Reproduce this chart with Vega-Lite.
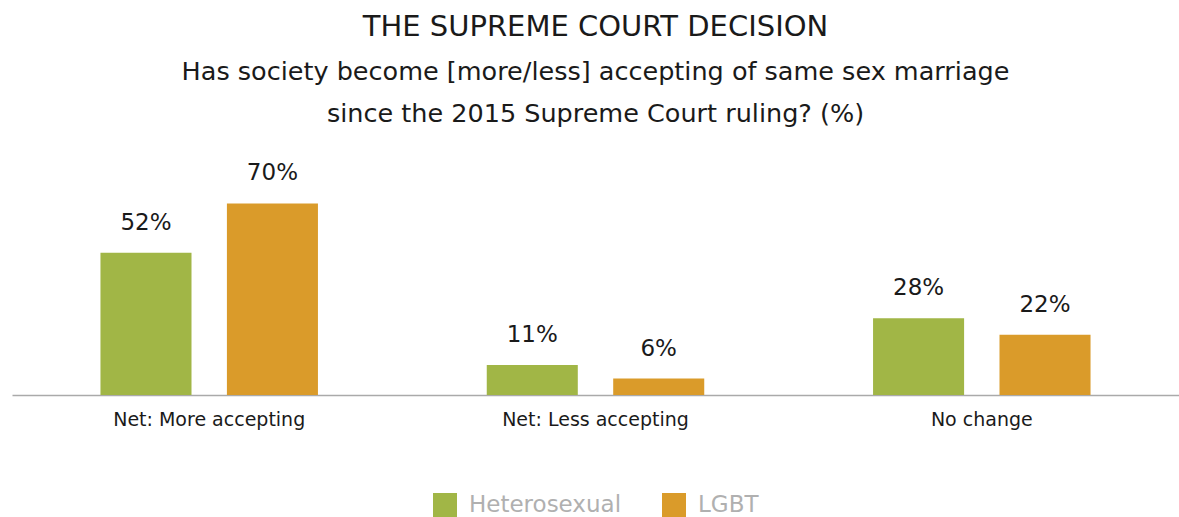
{
  "$schema": "https://vega.github.io/schema/vega-lite/v6.json",
  "width": 1167,
  "height": 219,
  "autosize": "none",
  "padding": {"left": 12, "top": 176, "right": 0, "bottom": 122},
  "background": "white",
  "title": {
    "text": "THE SUPREME COURT DECISION",
    "subtitle": ["Has society become [more/less] accepting of same sex marriage", "since the 2015 Supreme Court ruling? (%)"],
    "anchor": "middle",
    "frame": "group",
    "font": "DejaVu Sans",
    "fontSize": 29,
    "fontWeight": "normal",
    "color": "#1a1a1a",
    "subtitleFont": "DejaVu Sans",
    "subtitleFontSize": 25.5,
    "subtitleColor": "#1a1a1a",
    "subtitleLineHeight": 42,
    "subtitlePadding": 18,
    "offset": 35
  },
  "data": {
    "values": [
      {"category": "Net: More accepting", "group": "Heterosexual", "value": 52, "label": "52%"},
      {"category": "Net: More accepting", "group": "LGBT", "value": 70, "label": "70%"},
      {"category": "Net: Less accepting", "group": "Heterosexual", "value": 11, "label": "11%"},
      {"category": "Net: Less accepting", "group": "LGBT", "value": 6, "label": "6%"},
      {"category": "No change", "group": "Heterosexual", "value": 28, "label": "28%"},
      {"category": "No change", "group": "LGBT", "value": 22, "label": "22%"}
    ]
  },
  "encoding": {
    "x": {
      "field": "category",
      "type": "nominal",
      "sort": ["Net: More accepting", "Net: Less accepting", "No change"],
      "scale": {"paddingInner": 0.437, "paddingOuter": 0.229},
      "axis": {
        "title": null,
        "labelAngle": 0,
        "labelFont": "DejaVu Sans",
        "labelFontSize": 19,
        "labelColor": "#1a1a1a",
        "labelPadding": 15,
        "labelLimit": 0,
        "ticks": false,
        "domainColor": "#aaaaaa",
        "domainWidth": 1.5
      }
    },
    "xOffset": {
      "field": "group",
      "type": "nominal",
      "sort": ["Heterosexual", "LGBT"],
      "scale": {"paddingInner": 0.28, "paddingOuter": 0}
    },
    "y": {
      "field": "value",
      "type": "quantitative",
      "scale": {"domain": [0, 80]},
      "axis": null
    }
  },
  "layer": [
    {
      "mark": {"type": "bar"},
      "encoding": {
        "color": {
          "field": "group",
          "type": "nominal",
          "sort": ["Heterosexual", "LGBT"],
          "scale": {"domain": ["Heterosexual", "LGBT"], "range": ["#a1b646", "#da9b2a"]},
          "legend": {
            "title": null,
            "orient": "bottom",
            "direction": "horizontal",
            "symbolType": "square",
            "symbolSize": 576,
            "symbolStrokeWidth": 0,
            "labelFont": "DejaVu Sans",
            "labelFontSize": 23,
            "labelColor": "#b0b0b0",
            "labelLimit": 0,
            "columnPadding": 40,
            "labelOffset": 12,
            "offset": 64
          }
        }
      }
    },
    {
      "mark": {"type": "text", "font": "DejaVu Sans", "fontSize": 23, "color": "#1a1a1a", "baseline": "alphabetic", "dy": -23},
      "encoding": {
        "text": {"field": "label", "type": "nominal"},
        "detail": {"field": "group"}
      }
    }
  ],
  "config": {
    "view": {"stroke": null},
    "legend": {"layout": {"bottom": {"anchor": "middle"}}}
  }
}
